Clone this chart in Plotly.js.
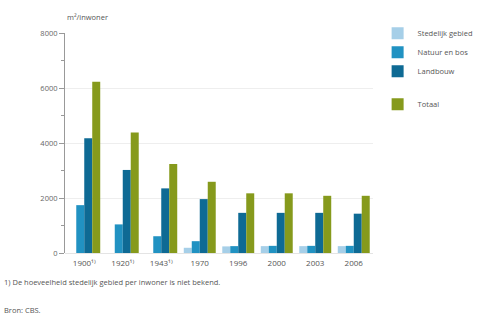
<!DOCTYPE html>
<html><head><meta charset="utf-8">
<script src="https://cdn.plot.ly/plotly-3.0.1.min.js"></script>
<style>html,body{margin:0;padding:0;background:#fff;}#chart{width:500px;height:322px;}</style>
</head><body><div id="chart"></div>
<script>
const years = ["1900¹⁾", "1920¹⁾", "1943¹⁾", "1970", "1996", "2000", "2003", "2006"];
const stedelijk = [null, null, null, 190, 240, 250, 250, 250];
const natuur = [1740, 1040, 610, 430, 250, 260, 260, 260];
const landbouw = [4170, 3020, 2350, 1960, 1460, 1460, 1460, 1430];
const totaal = [6230, 4380, 3240, 2590, 2170, 2170, 2080, 2080];
const yTicks = [0, 2000, 4000, 6000, 8000];
const yTickText = ["0", "2000", "4000", "6000", "8000"];

const names = ["Stedelijk gebied", "Natuur en bos", "Landbouw", "Totaal"];
const colors = ["#a6cfe8", "#2192c2", "#0e6a94", "#869a1c"];
const series = [stedelijk, natuur, landbouw, totaal];
const groups = ["a", "a", "a", "b"];

const traces = series.map((s, i) => ({
  type: "bar", x: years, y: s, name: names[i], legendgroup: groups[i],
  marker: {color: colors[i], line: {width: 0}}, hoverinfo: "skip"
}));

const layout = {
  width: 500, height: 322,
  margin: {l: 65, r: 127, t: 33, b: 69},
  paper_bgcolor: "#fff", plot_bgcolor: "#fff",
  barmode: "group", bargap: 0.17, bargroupgap: 0,
  font: {family: "Open Sans, sans-serif", color: "#555", size: 8},
  showlegend: true,
  legend: {x: 1.015, y: 1.065, xanchor: "left", yanchor: "top",
           traceorder: "grouped", tracegroupgap: 14,
           font: {size: 7.5, color: "#555"}, itemwidth: 30, bgcolor: "rgba(0,0,0,0)"},
  xaxis: {type: "category", showline: false, ticks: "", zeroline: false, ticklabelstandoff: 4,
          tickfont: {size: 8, color: "#555"}, showgrid: false},
  yaxis: {range: [0, 8000], tickvals: yTicks, ticktext: yTickText,
          showline: true, linecolor: "#999", linewidth: 1,
          ticks: "outside", ticklen: 5, tickcolor: "#999",
          minor: {dtick: 1000, ticks: "outside", ticklen: 3, tickcolor: "#999"},
          showgrid: true, gridcolor: "#eeeeee", zeroline: true, zerolinecolor: "#e4e4e4",
          tickfont: {size: 7.5, color: "#666"}},
  annotations: [
    {text: "m²/inwoner", xref: "paper", yref: "paper", x: 0.0, y: 1.0, yshift: 9,
     xanchor: "left", yanchor: "bottom", showarrow: false, font: {size: 7.5, color: "#555"}},
    {text: "1) De hoeveelheid stedelijk gebied per inwoner is niet bekend.", xref: "paper", yref: "paper",
     x: -0.205, y: 0, yshift: -29, xanchor: "left", yanchor: "middle", showarrow: false,
     font: {size: 7.5, color: "#555"}},
    {text: "Bron: CBS.", xref: "paper", yref: "paper",
     x: -0.205, y: 0, yshift: -57, xanchor: "left", yanchor: "middle", showarrow: false,
     font: {size: 7.5, color: "#555"}}
  ]
};
Plotly.newPlot("chart", traces, layout, {displayModeBar: false, staticPlot: true});
</script></body></html>
